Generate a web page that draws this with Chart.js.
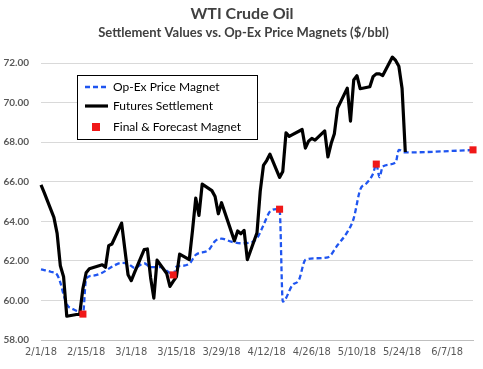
<!DOCTYPE html>
<html><head><meta charset="utf-8">
<script src="https://cdn.jsdelivr.net/npm/chart.js@4/dist/chart.umd.min.js"></script>
<style>html,body{margin:0;padding:0;background:#fff;}canvas{display:block;}</style>
</head><body>
<canvas id="c" width="483" height="369"></canvas>
<script>
const titleText = 'WTI Crude Oil';
const subtitleText = 'Settlement Values vs. Op-Ex Price Magnets ($/bbl)';
const axisStart = '2/1/18';
const axisEnd = '6/15/18';
const xTickLabels = ['2/1/18','2/15/18','3/1/18','3/15/18','3/29/18','4/12/18','4/26/18','5/10/18','5/24/18','6/7/18'];
const yMin = 58, yMax = 72, yStep = 2;

const magnetLabel = 'Op-Ex Price Magnet';
const magnetDates = ['2/1/18','2/4/18','2/6/18','2/7/18','2/8/18','2/9/18','2/11/18','2/13/18','2/14/18','2/15/18','2/17/18','2/20/18','2/23/18','2/26/18','2/28/18','3/2/18','3/5/18','3/7/18','3/10/18','3/12/18','3/14/18','3/15/18','3/16/18','3/19/18','3/21/18','3/25/18','3/27/18','3/29/18','4/1/18','4/4/18','4/7/18','4/9/18','4/11/18','4/13/18','4/15/18','4/16/18','4/17/18','4/20/18','4/22/18','4/24/18','4/27/18','5/1/18','5/4/18','5/7/18','5/9/18','5/11/18','5/13/18','5/15/18','5/16/18','5/17/18','5/18/18','5/22/18','5/23/18','5/25/18','6/15/18'];
const magnetValues = [61.57,61.45,61.30,60.90,60.30,59.80,59.55,59.40,59.30,61.10,61.25,61.40,61.70,61.90,61.85,61.65,61.88,61.68,61.68,61.50,61.30,61.70,61.74,61.85,62.30,62.55,63.00,63.12,62.97,62.89,62.92,63.14,63.80,64.49,64.61,64.61,59.94,60.78,61.03,62.05,62.13,62.18,62.80,63.45,64.15,65.59,65.93,66.40,66.89,66.23,66.77,66.97,67.61,67.48,67.60];

const futuresLabel = 'Futures Settlement';
const futuresDates = ['2/1/18','2/2/18','2/5/18','2/6/18','2/7/18','2/8/18','2/9/18','2/12/18','2/13/18','2/14/18','2/15/18','2/16/18','2/20/18','2/21/18','2/22/18','2/23/18','2/26/18','2/27/18','2/28/18','3/1/18','3/2/18','3/5/18','3/6/18','3/7/18','3/8/18','3/9/18','3/12/18','3/13/18','3/14/18','3/15/18','3/16/18','3/19/18','3/20/18','3/21/18','3/22/18','3/23/18','3/26/18','3/27/18','3/28/18','3/29/18','4/2/18','4/3/18','4/4/18','4/5/18','4/6/18','4/9/18','4/10/18','4/11/18','4/12/18','4/13/18','4/16/18','4/17/18','4/18/18','4/19/18','4/20/18','4/23/18','4/24/18','4/25/18','4/26/18','4/27/18','4/30/18','5/1/18','5/2/18','5/3/18','5/4/18','5/7/18','5/8/18','5/9/18','5/10/18','5/11/18','5/14/18','5/15/18','5/16/18','5/17/18','5/18/18','5/21/18','5/22/18','5/23/18','5/24/18','5/25/18'];
const futuresValues = [65.84,65.45,64.20,63.39,61.75,61.20,59.20,59.29,59.30,60.60,61.40,61.60,61.80,61.68,62.77,62.85,63.91,62.60,61.30,61.00,61.40,62.57,62.60,61.15,60.12,62.04,61.36,60.71,60.96,61.19,62.34,62.06,63.54,65.17,64.30,65.88,65.55,65.25,64.38,64.94,63.01,63.51,63.37,63.54,62.06,63.42,65.51,66.82,67.07,67.39,66.22,66.52,68.47,68.29,68.38,68.64,67.70,68.05,68.19,68.10,68.57,67.25,67.93,68.43,69.72,70.73,69.06,71.14,71.36,70.70,70.80,71.31,71.45,71.45,71.37,72.30,72.13,71.84,70.71,67.50];

const finalLabel = 'Final & Forecast Magnet';
const finalDates = ['2/14/18','3/14/18','4/16/18','5/16/18','6/15/18'];
const finalValues = [59.31,61.29,64.61,66.89,67.61];

function dayOf(s){
  const p = s.split('/').map(Number);
  return Math.round((Date.UTC(2000+p[2], p[0]-1, p[1]) - Date.UTC(2018,1,1)) / 864e5);
}
const toPts = (dates, vals) => dates.map((d,i)=>({x: dayOf(d), y: vals[i]}));

const blue = '#1F55F0', black = '#000000', red = '#F01818';
const blueDash = [5,3];

const titlePlugin = {
  id:'titles',
  afterDraw(chart){
    const ctx = chart.ctx; ctx.save();
    ctx.fillStyle = '#404040'; ctx.textAlign = 'center'; ctx.textBaseline = 'alphabetic';
    ctx.font = 'bold 16px Lato'; ctx.fillText(titleText, 242, 19);
    ctx.font = 'bold 13px Lato'; ctx.fillText(subtitleText, 243.5, 37);
    ctx.restore();
  }
};
const legendPlugin = {
  id:'floatLegend',
  afterDraw(chart){
    const ctx = chart.ctx; ctx.save();
    const bx = 77.5, by = 75.5, bw = 180, bh = 64;
    ctx.fillStyle = '#fff'; ctx.fillRect(bx, by, bw, bh);
    ctx.strokeStyle = '#000'; ctx.lineWidth = 1; ctx.setLineDash([]); ctx.strokeRect(bx, by, bw, bh);
    const ds = chart.data.datasets;
    const rows = [87, 106, 127];
    ctx.font = '12px Lato'; ctx.textBaseline = 'middle'; ctx.textAlign = 'left';
    ds.forEach((d, i) => {
      const y = rows[i];
      if (d.showLine !== false) {
        ctx.strokeStyle = d.borderColor; ctx.lineWidth = d.borderWidth;
        ctx.setLineDash(d.borderDash || []);
        ctx.beginPath(); ctx.moveTo(85, y); ctx.lineTo(108, y); ctx.stroke();
        ctx.setLineDash([]);
      } else {
        ctx.fillStyle = d.pointBackgroundColor; ctx.fillRect(92, y-4, 8, 8);
      }
      ctx.fillStyle = '#000'; ctx.fillText(d.label, 113, y + 0.5);
    });
    ctx.restore();
  }
};

new Chart(document.getElementById('c'), {
  type:'line',
  data:{ datasets:[
    { label: magnetLabel, data: toPts(magnetDates, magnetValues), borderColor: blue, borderWidth: 2.3, borderDash: blueDash, pointRadius: 0, tension: 0.3, cubicInterpolationMode:'monotone', order: 2, clip: false },
    { label: futuresLabel, data: toPts(futuresDates, futuresValues), borderColor: black, borderWidth: 3.2, pointRadius: 0, tension: 0, order: 1, borderJoinStyle:'round', clip: false },
    { label: finalLabel, data: toPts(finalDates, finalValues), showLine: false, pointStyle: 'rect', pointRadius: 5, pointBackgroundColor: red, pointBorderColor: red, pointBorderWidth: 0, order: 0, clip: false }
  ]},
  options:{
    responsive:false, animation:false, devicePixelRatio:1,
    layout:{ padding:{ top:63, right:10, left:0, bottom:0 } },
    plugins:{ legend:{display:false}, tooltip:{enabled:false}, title:{display:false} },
    scales:{
      x:{ type:'linear', min: dayOf(axisStart), max: dayOf(axisEnd),
        afterBuildTicks: s => { s.ticks = xTickLabels.map(l => ({value: dayOf(l)})); },
        afterFit: s => { s.height = 29; },
        grid:{ display:false, drawTicks:false },
        border:{ display:true, color:'#BFBFBF', width:1 },
        ticks:{ autoSkip:false, maxRotation:0, padding:6, color:'#595959', font:{ family:'"Liberation Sans Narrow","DejaVu Sans Condensed",Lato', size:11 },
          callback: v => xTickLabels.find(l => dayOf(l) === v) || '' }
      },
      y:{ min:yMin, max:yMax,
        afterFit: s => { s.width = 41; },
        grid:{ color:'#D9D9D9', lineWidth:1, drawTicks:false },
        border:{ display:false },
        ticks:{ stepSize:yStep, padding:12, color:'#595959', font:{ family:'Lato', size:10, weight:'bold' }, callback: v => v.toFixed(2) }
      }
    }
  },
  plugins:[titlePlugin, legendPlugin]
});
</script>
</body></html>
